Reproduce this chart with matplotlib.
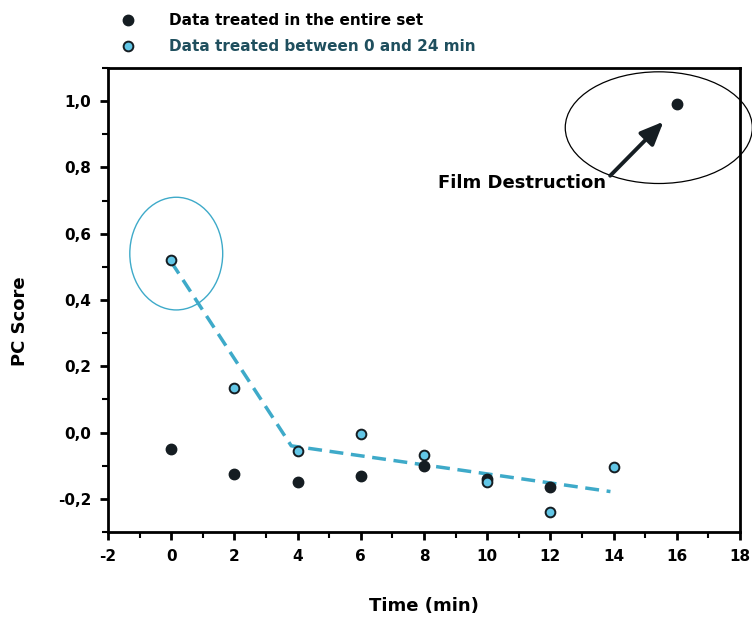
import matplotlib
matplotlib.use("Agg")
import matplotlib.pyplot as plt
from matplotlib.patches import Ellipse
from matplotlib.ticker import MultipleLocator, FuncFormatter

# ---- data ----
time_entire = [0, 2, 4, 6, 8, 10, 12, 16]
score_entire = [-0.05, -0.124, -0.148, -0.131, -0.10, -0.141, -0.163, 0.99]

time_0_24 = [0, 2, 4, 6, 8, 10, 12, 14]
score_0_24 = [0.52, 0.133, -0.055, -0.005, -0.067, -0.149, -0.241, -0.105]

fit_time = [0, 3.8, 13.9]
fit_score = [0.515, -0.04, -0.178]

labels = ["Data treated in the entire set", "Data treated between 0 and 24 min"]

cyan = "#62c6e6"
line_cyan = "#3eaac9"
dark = "#151d22"

fig = plt.figure(figsize=(7.52, 6.17), dpi=100)
ax = fig.add_axes([108/752, 1-532/617, (740-108)/752, (532-68)/617])

ax.plot(fit_time, fit_score, linestyle=(0, (4, 2.2)), color=line_cyan, lw=2.5, zorder=2)
h1, = ax.plot(time_entire, score_entire, 'o', color=dark, ms=7.5, mec=dark, zorder=3, linestyle='none')
h2, = ax.plot(time_0_24, score_0_24, 'o', color=cyan, ms=7, mec=dark, mew=1.4, zorder=4, linestyle='none')

# annotations
ax.add_patch(Ellipse((0.16, 0.54), 2.94, 0.34, fill=False, ec=line_cyan, lw=1.0, zorder=1))
ax.add_patch(Ellipse((15.43, 0.92), 5.92, 0.337, fill=False, ec="black", lw=0.9, clip_on=False, zorder=1))
ax.annotate("", xy=(15.64, 0.944), xytext=(13.83, 0.769),
            arrowprops=dict(arrowstyle="-|>,head_length=1.4,head_width=0.6", color=dark, lw=2.8))
ax.text(13.75, 0.754, "Film Destruction", ha="right", va="center", fontsize=13, fontweight="bold")

ax.set_xlim(-2, 18)
ax.set_ylim(-0.3, 1.1)
ax.xaxis.set_major_locator(MultipleLocator(2))
ax.xaxis.set_minor_locator(MultipleLocator(1))
ax.yaxis.set_major_locator(MultipleLocator(0.2))
ax.yaxis.set_minor_locator(MultipleLocator(0.1))
ax.yaxis.set_major_formatter(FuncFormatter(lambda v, p: f"{v:.1f}".replace(".", ",").replace("-0,0", "0,0")))
ax.xaxis.set_major_formatter(FuncFormatter(lambda v, p: f"{int(round(v))}"))

for s in ax.spines.values():
    s.set_linewidth(2.0)
ax.tick_params(which="major", direction="out", length=6, width=2, labelsize=11, pad=6)
ax.tick_params(which="minor", direction="out", length=4, width=1.5)
ax.tick_params(top=False, right=False, which="both")
for lab in ax.get_xticklabels() + ax.get_yticklabels():
    lab.set_fontweight("bold")

ax.set_xlabel("Time (min)", fontsize=13, fontweight="bold", labelpad=24)
ax.set_ylabel("PC Score", fontsize=13, fontweight="bold", labelpad=14)
ax.yaxis.set_label_coords(-0.125, 0.455)

leg = fig.legend([h1, h2], labels, loc="upper left", bbox_to_anchor=(120/752, 1-13/617),
                 frameon=False, fontsize=11, handlelength=1.0, handletextpad=2.2,
                 labelspacing=0.75, borderpad=0, borderaxespad=0, prop=dict(weight="bold", size=11))
texts = leg.get_texts()
texts[0].set_color("black")
texts[1].set_color("#1f4f5e")

fig.savefig("out.png", dpi=100)
